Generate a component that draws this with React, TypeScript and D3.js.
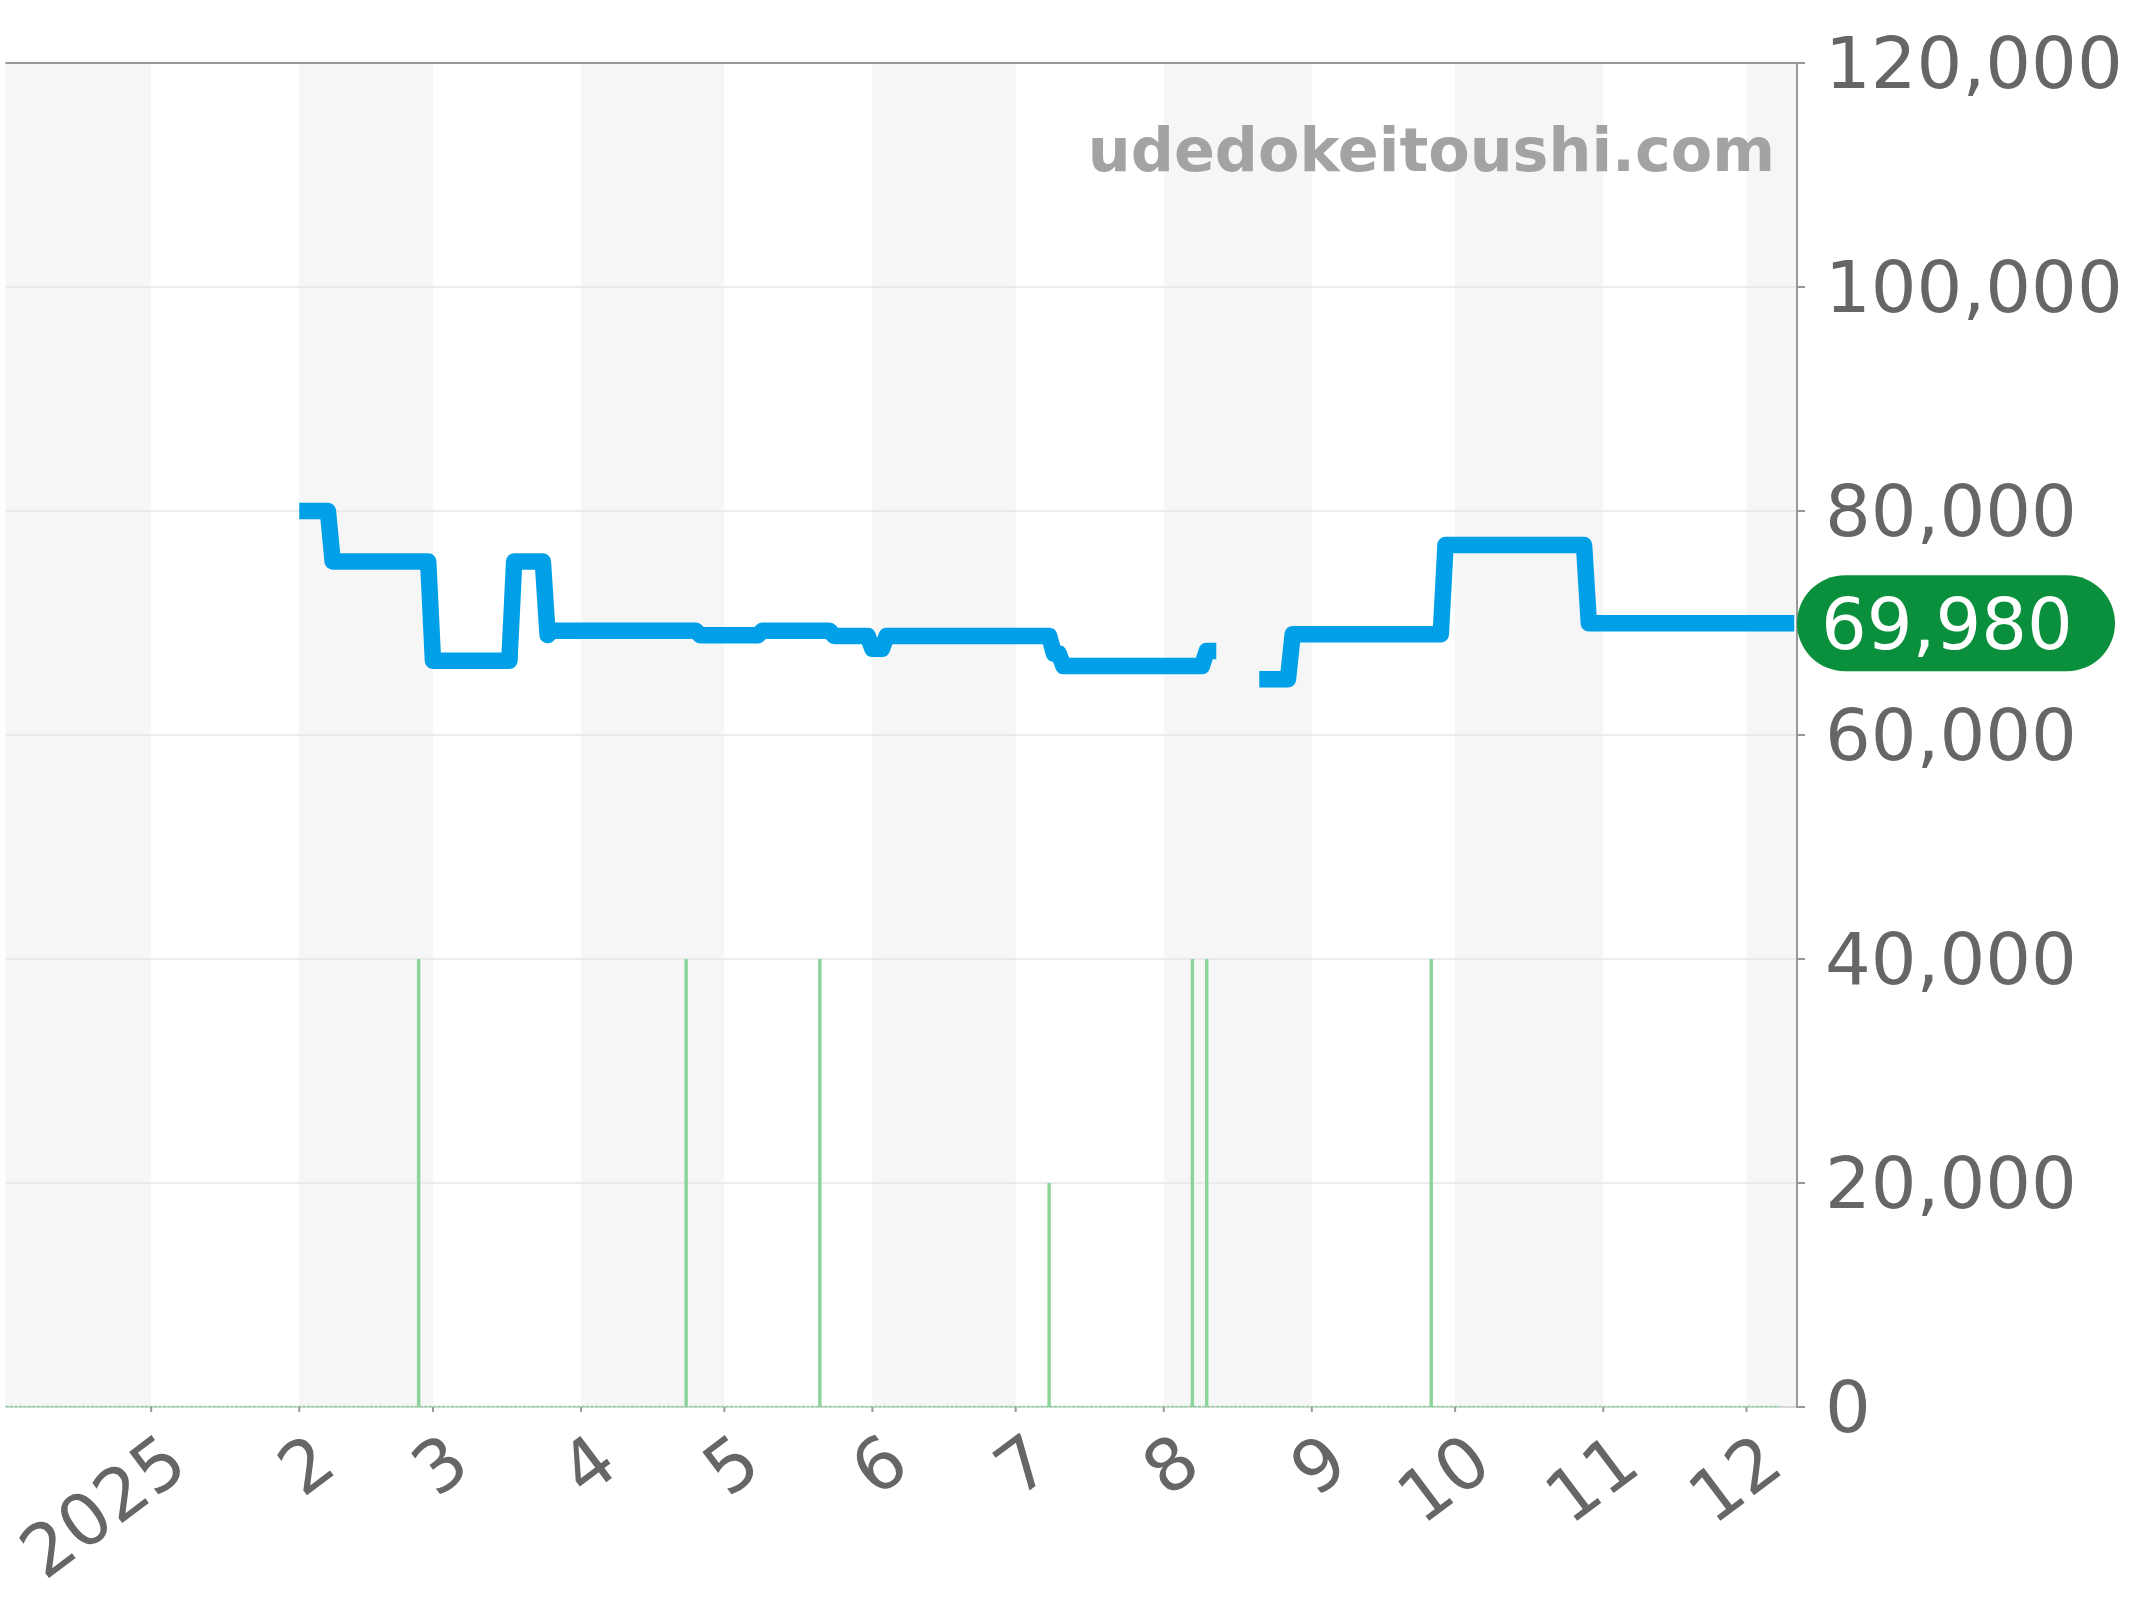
import React from "react";
import * as d3 from "d3";

const W = 2144, H = 1600;
const PLOT = { left: 5.5, right: 1797, top: 63, bottom: 1407 };

const domainDates = ["2024-12-01T12:00", "2025-12-11T14:00"];
const monthTicks = ["2025-01-01","2025-02-01","2025-03-01","2025-04-01","2025-05-01","2025-06-01","2025-07-01","2025-08-01","2025-09-01","2025-10-01","2025-11-01","2025-12-01"];
const monthLabels = ["2025","2","3","4","5","6","7","8","9","10","11","12"];
const yTicks = [0,20000,40000,60000,80000,100000,120000];
const lineDates = ["2025-02-01","2025-02-07","2025-02-08","2025-02-28","2025-03-01","2025-03-17","2025-03-18","2025-03-24","2025-03-25","2025-03-26","2025-04-25","2025-04-26","2025-05-08","2025-05-09","2025-05-23","2025-05-24","2025-05-31","2025-06-01","2025-06-03","2025-06-04","2025-07-08","2025-07-09","2025-07-10","2025-07-11","2025-08-09","2025-08-10","2025-08-12","2025-08-13","2025-08-21","2025-08-27","2025-08-28","2025-09-28","2025-09-29","2025-10-28","2025-10-29","2025-12-11"];
const lineValues: (number|null)[] = [80000,80000,75500,75500,66630,66630,75500,75500,68930,69310,69310,68900,68900,69310,69310,68850,68850,67700,67700,68850,68850,67280,67280,66160,66160,67500,67500,null,64970,64970,69000,69000,76960,76960,69980,69980];
const volumeDates = ["2025-02-26","2025-04-23","2025-05-21","2025-07-08","2025-08-07","2025-08-10","2025-09-26"];
const volumeValues = [40000,40000,40000,20000,40000,40000,40000];
const currentValue = 69980;

const parse = (s: string) => new Date(s.length > 10 ? s + ":00Z" : s + "T00:00:00Z");

export default function App() {
  const x = d3.scaleUtc().domain(domainDates.map(parse)).range([PLOT.left, PLOT.right]);
  const y = d3.scaleLinear().domain([0, 120000]).range([PLOT.bottom, PLOT.top]);
  const pts = lineDates.map((d, i) => ({ d: parse(d), v: lineValues[i] }));
  const line = d3.line<{ d: Date; v: number | null }>()
    .defined(p => p.v != null).x(p => x(p.d)).y(p => y(p.v as number));
  const bounds = [x.domain()[0], ...monthTicks.map(parse), x.domain()[1]];
  const bands = bounds.slice(0, -1).map((b, i) => ({ a: x(b), b: x(bounds[i + 1]), on: i % 2 === 0 }));
  const font = "'DejaVu Sans', sans-serif";
  const yc = y(currentValue);
  return (
    <svg width={W} height={H} viewBox={`0 0 ${W} ${H}`} style={{ position: "absolute", left: 0, top: 0, display: "block" }}>
      <rect width={W} height={H} fill="#fff" />
      {bands.filter(b => b.on).map((b, i) => (
        <rect key={i} x={b.a} y={PLOT.top} width={b.b - b.a} height={PLOT.bottom - PLOT.top} fill="#f6f6f6" />
      ))}
      {yTicks.slice(1, -1).map(t => (
        <line key={t} x1={PLOT.left} x2={PLOT.right} y1={y(t)} y2={y(t)} stroke="#e6e6e6" strokeWidth={1.3} />
      ))}
      <line x1={PLOT.left} x2={PLOT.right} y1={PLOT.bottom} y2={PLOT.bottom} stroke="#cccccc" strokeWidth={1.4} />
      <line x1={PLOT.left} x2={x(parse("2025-12-08"))} y1={PLOT.bottom - 0.5} y2={PLOT.bottom - 0.5} stroke="#8fd49e" strokeWidth={1.6} strokeDasharray="3 1.5" />
      {volumeDates.map((d, i) => (
        <line key={d} x1={x(parse(d))} x2={x(parse(d))} y1={y(0)} y2={y(volumeValues[i])} stroke="#8ad49a" strokeWidth={3.4} />
      ))}
      <text x={1775} y={171} textAnchor="end" fontFamily={font} fontWeight="bold" fontSize={60.3} fill="#a3a3a3">udedokeitoushi.com</text>
      <path d={line(pts) ?? ""} fill="none" stroke="#00a0e9" strokeWidth={16.5} strokeLinejoin="round" strokeLinecap="butt" />
      <line x1={PLOT.left} x2={1805} y1={PLOT.top} y2={PLOT.top} stroke="#999" strokeWidth={2} />
      <line x1={PLOT.right} x2={PLOT.right} y1={PLOT.top} y2={PLOT.bottom + 1} stroke="#999" strokeWidth={2} />
      {yTicks.map(t => (
        <g key={t}>
          <line x1={PLOT.right} x2={1805} y1={y(t)} y2={y(t)} stroke="#999" strokeWidth={2} />
          <text x={1825} y={y(t) - 1} dy="0.36em" fontFamily={font} fontSize={72} fill="#666">{d3.format(",")(t)}</text>
        </g>
      ))}
      {monthTicks.map((d, i) => {
        const tx = x(parse(d));
        return (
          <g key={d}>
            <line x1={tx} x2={tx} y1={PLOT.bottom} y2={PLOT.bottom + 5} stroke="#999" strokeWidth={2} />
            <text transform={`translate(${tx + 40},${PLOT.bottom + 64}) rotate(-37)`} textAnchor="end" fontFamily={font} fontSize={72} fill="#666">{monthLabels[i]}</text>
          </g>
        );
      })}
      <rect x={PLOT.right} y={yc - 48} width={318} height={96} rx={48} ry={48} fill="#0a903c" />
      <text x={1821} y={yc} dy="0.36em" fontFamily={font} fontSize={72} fill="#fff">{d3.format(",")(currentValue)}</text>
    </svg>
  );
}
